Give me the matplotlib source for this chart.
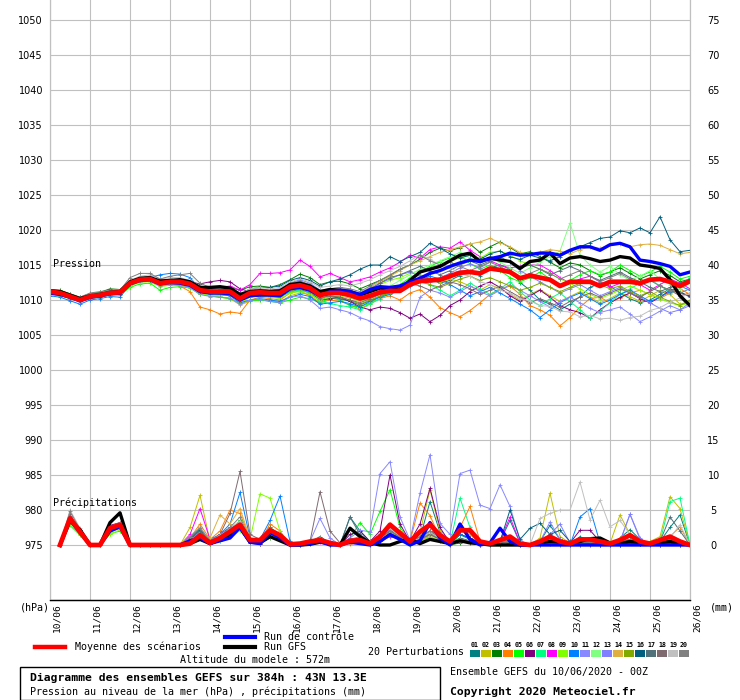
import numpy as np
import matplotlib
matplotlib.use("Agg")
import matplotlib.pyplot as plt
from matplotlib.lines import Line2D
from matplotlib.patches import Rectangle

# Diagramme des ensembles GEFS - 43N 13.3E - run du 10/06/2020 00Z
# pression toutes les 6h de 0 a 384h (65 valeurs), precip de 6h a 384h (64 valeurs)

day_labels = ["10/06", "11/06", "12/06", "13/06", "14/06", "15/06", "16/06", "17/06", "18/06",
              "19/06", "20/06", "21/06", "22/06", "23/06", "24/06", "25/06", "26/06"]

p_mean = [1011.2, 1011.0, 1010.5, 1010.0, 1010.5, 1010.7, 1011.0, 1011.1,
          1012.4, 1012.9, 1013.0, 1012.4, 1012.6, 1012.6, 1012.3, 1011.4,
          1011.2, 1011.2, 1011.2, 1010.2, 1011.0, 1011.1, 1011.0, 1011.0,
          1011.9, 1012.1, 1011.7, 1010.7, 1011.0, 1011.0, 1010.7, 1010.2,
          1010.6, 1011.1, 1011.3, 1011.3, 1012.2, 1012.7, 1012.8, 1012.9,
          1013.4, 1013.9, 1014.0, 1013.8, 1014.5, 1014.3, 1014.0, 1013.1,
          1013.5, 1013.2, 1012.9, 1012.0, 1012.6, 1012.6, 1012.6, 1012.0,
          1012.6, 1012.6, 1012.6, 1012.4, 1012.9, 1013.0, 1012.6, 1012.0, 1012.7]
p_ctrl = [1011.0, 1010.8, 1010.4, 1009.9, 1010.4, 1010.6, 1010.9, 1011.0,
          1012.3, 1012.8, 1012.9, 1012.3, 1012.5, 1012.4, 1012.1, 1011.2,
          1011.0, 1011.0, 1010.9, 1010.0, 1010.6, 1010.7, 1010.7, 1010.6,
          1011.6, 1011.8, 1011.4, 1010.6, 1011.2, 1011.4, 1011.2, 1010.8,
          1011.5, 1011.9, 1011.8, 1012.0, 1012.6, 1013.1, 1013.8, 1014.2,
          1014.8, 1015.3, 1015.7, 1015.5, 1015.9, 1016.2, 1016.7, 1016.4,
          1016.5, 1016.7, 1016.7, 1016.4, 1017.1, 1017.6, 1017.6, 1017.1,
          1017.9, 1018.1, 1017.6, 1015.7, 1015.5, 1015.2, 1014.8, 1013.6, 1014.0]
p_gfs = [1011.3, 1011.2, 1010.7, 1010.2, 1010.6, 1010.8, 1011.1, 1011.2,
         1012.6, 1013.1, 1013.2, 1012.7, 1012.8, 1012.9, 1012.6, 1011.8,
         1011.8, 1011.9, 1011.7, 1010.8, 1011.2, 1011.3, 1011.2, 1011.3,
         1012.2, 1012.4, 1012.0, 1011.2, 1011.5, 1011.4, 1011.2, 1010.7,
         1011.2, 1011.7, 1011.6, 1011.4, 1012.8, 1014.0, 1014.4, 1014.8,
         1015.6, 1016.4, 1016.7, 1015.5, 1016.0, 1015.7, 1015.5, 1014.5,
         1015.5, 1015.7, 1016.7, 1015.2, 1016.0, 1016.2, 1015.9, 1015.5,
         1015.7, 1016.2, 1016.0, 1015.0, 1014.8, 1014.5, 1012.9, 1010.6, 1009.2]

p01 = [1011.4, 1011.1, 1010.6, 1010.1, 1010.6, 1010.9, 1011.2, 1011.3,
       1012.6, 1013.1, 1013.2, 1012.5, 1012.8, 1012.7, 1012.3, 1011.5,
       1011.3, 1011.1, 1011.0, 1010.0, 1010.6, 1010.8, 1010.5, 1010.4,
       1011.5, 1011.8, 1011.2, 1010.0, 1010.4, 1010.2, 1009.8, 1009.3,
       1009.9, 1010.5, 1011.0, 1011.6, 1012.5, 1013.3, 1013.0, 1012.4,
       1012.8, 1013.5, 1014.0, 1013.5, 1014.6, 1015.0, 1014.4, 1012.5,
       1011.4, 1010.0, 1009.4, 1008.6, 1009.4, 1010.5, 1011.8, 1012.4,
       1012.0, 1011.0, 1010.2, 1009.6, 1010.0, 1010.8, 1011.6, 1011.2, 1010.4]
p02 = [1011.0, 1010.9, 1010.3, 1009.8, 1010.3, 1010.5, 1010.8, 1010.9,
       1012.1, 1012.6, 1012.7, 1012.1, 1012.3, 1012.2, 1011.9, 1010.9,
       1010.6, 1010.4, 1010.2, 1009.3, 1009.8, 1010.0, 1009.9, 1009.7,
       1010.6, 1011.0, 1010.8, 1009.9, 1010.2, 1010.5, 1010.3, 1009.8,
       1010.2, 1010.9, 1011.5, 1012.0, 1013.0, 1013.6, 1013.2, 1012.5,
       1013.0, 1012.6, 1012.0, 1011.4, 1012.2, 1011.6, 1010.8, 1010.0,
       1010.8, 1011.5, 1010.6, 1009.8, 1010.5, 1011.2, 1010.4, 1009.6,
       1010.2, 1011.0, 1010.5, 1009.8, 1010.6, 1011.4, 1010.8, 1009.4, 1009.8]
p03 = [1011.5, 1011.4, 1010.9, 1010.4, 1010.9, 1011.1, 1011.6, 1011.5,
       1012.7, 1013.2, 1013.3, 1012.8, 1012.9, 1012.8, 1012.5, 1011.7,
       1011.6, 1011.7, 1011.8, 1011.4, 1011.9, 1012.0, 1011.8, 1012.2,
       1012.9, 1013.7, 1013.2, 1012.2, 1012.6, 1012.7, 1012.3, 1011.6,
       1012.2, 1012.8, 1013.5, 1014.4, 1015.0, 1015.8, 1016.8, 1017.4,
       1017.0, 1017.5, 1018.0, 1016.8, 1017.6, 1018.3, 1017.5, 1016.6,
       1016.9, 1016.2, 1015.4, 1014.6, 1015.3, 1015.0, 1014.2, 1013.5,
       1014.0, 1014.6, 1013.8, 1013.0, 1013.6, 1014.2, 1013.5, 1012.6, 1013.0]
p04 = [1011.1, 1010.9, 1010.4, 1009.9, 1010.4, 1010.6, 1010.9, 1011.0,
       1012.2, 1012.7, 1012.8, 1012.2, 1012.3, 1012.0, 1011.2, 1009.0,
       1008.6, 1008.0, 1008.3, 1008.1, 1010.0, 1010.4, 1010.2, 1010.0,
       1011.0, 1011.3, 1010.6, 1009.6, 1010.0, 1009.8, 1009.3, 1008.7,
       1009.5, 1010.2, 1010.6, 1010.0, 1011.0, 1011.5, 1010.4, 1008.9,
       1008.2, 1007.6, 1008.5, 1009.6, 1010.8, 1011.5, 1012.0, 1010.8,
       1009.2, 1008.6, 1007.8, 1006.3, 1007.5, 1009.0, 1010.2, 1010.4,
       1009.6, 1010.3, 1011.0, 1011.4, 1010.8, 1010.2, 1011.0, 1011.6, 1010.8]
p05 = [1010.8, 1010.6, 1010.2, 1009.8, 1010.2, 1010.4, 1010.7, 1010.7,
       1011.8, 1012.3, 1012.4, 1011.4, 1011.8, 1011.9, 1011.7, 1010.8,
       1010.6, 1010.4, 1010.2, 1009.6, 1009.9, 1010.0, 1009.8, 1009.6,
       1010.0, 1010.4, 1010.2, 1009.6, 1010.3, 1010.0, 1009.2, 1009.0,
       1009.6, 1010.5, 1011.4, 1012.2, 1013.2, 1014.0, 1014.8, 1015.5,
       1016.0, 1016.4, 1015.2, 1014.4, 1015.0, 1014.2, 1013.2, 1012.6,
       1013.2, 1014.0, 1013.0, 1012.2, 1012.8, 1013.6, 1014.2, 1013.6,
       1014.0, 1015.0, 1014.2, 1013.4, 1014.0, 1014.8, 1014.0, 1013.0, 1013.4]
p06 = [1011.3, 1011.1, 1010.6, 1010.1, 1010.6, 1010.8, 1011.2, 1011.3,
       1012.5, 1013.0, 1013.1, 1012.6, 1012.8, 1012.8, 1012.6, 1012.3,
       1012.6, 1012.8, 1012.6, 1011.6, 1011.2, 1011.0, 1010.6, 1010.4,
       1011.2, 1011.5, 1011.0, 1010.0, 1010.2, 1010.4, 1009.8, 1009.0,
       1008.6, 1009.0, 1008.8, 1008.2, 1007.4, 1008.0, 1006.9, 1007.8,
       1009.2, 1010.0, 1011.2, 1012.0, 1012.6, 1011.8, 1010.6, 1009.8,
       1010.6, 1011.4, 1010.4, 1009.2, 1008.6, 1008.2, 1007.4, 1008.6,
       1009.6, 1010.4, 1011.0, 1010.2, 1009.6, 1010.4, 1011.4, 1011.0, 1010.6]
p07 = [1011.2, 1011.0, 1010.5, 1010.0, 1010.4, 1010.6, 1011.0, 1011.1,
       1012.3, 1012.8, 1012.9, 1012.2, 1012.4, 1012.4, 1012.0, 1011.0,
       1010.8, 1010.6, 1010.7, 1009.8, 1010.5, 1010.6, 1010.4, 1010.4,
       1011.2, 1011.4, 1011.0, 1009.8, 1009.5, 1009.2, 1009.0, 1008.6,
       1009.4, 1010.2, 1011.0, 1011.5, 1012.4, 1013.0, 1012.2, 1011.4,
       1010.6, 1011.4, 1012.4, 1011.6, 1010.8, 1011.6, 1012.6, 1011.2,
       1010.0, 1009.2, 1010.2, 1011.0, 1009.8, 1008.6, 1007.4, 1008.4,
       1009.6, 1010.8, 1011.6, 1012.4, 1013.0, 1012.0, 1011.2, 1012.0, 1013.2]
p08 = [1011.2, 1011.0, 1010.6, 1010.1, 1010.5, 1010.7, 1011.0, 1011.2,
       1012.5, 1013.0, 1013.1, 1012.6, 1012.7, 1012.8, 1012.5, 1011.8,
       1011.6, 1011.8, 1012.0, 1011.4, 1012.2, 1013.8, 1013.8, 1013.9,
       1014.3, 1015.7, 1014.8, 1013.3, 1013.8, 1013.2, 1012.6, 1012.9,
       1013.3, 1014.0, 1014.6, 1015.4, 1016.4, 1016.0, 1017.2, 1017.6,
       1017.4, 1018.3, 1017.1, 1016.2, 1015.6, 1015.0, 1014.6, 1014.8,
       1015.0, 1015.0, 1014.2, 1013.2, 1012.4, 1013.0, 1013.4, 1012.6,
       1011.8, 1012.4, 1013.0, 1012.2, 1011.4, 1012.2, 1013.0, 1012.4, 1011.6]
p09 = [1011.0, 1010.8, 1010.3, 1009.9, 1010.3, 1010.5, 1010.8, 1010.9,
       1012.0, 1012.5, 1012.6, 1011.9, 1012.1, 1012.1, 1011.8, 1010.9,
       1010.6, 1010.6, 1010.8, 1009.6, 1010.4, 1010.6, 1010.4, 1010.2,
       1011.0, 1011.2, 1010.8, 1010.0, 1010.4, 1010.6, 1010.8, 1010.6,
       1011.4, 1012.2, 1012.8, 1013.2, 1013.8, 1014.2, 1014.6, 1015.0,
       1015.5, 1016.0, 1016.4, 1016.0, 1016.8, 1017.0, 1016.4, 1015.6,
       1015.0, 1014.4, 1013.8, 1013.0, 1012.4, 1011.6, 1010.8, 1010.2,
       1010.8, 1011.4, 1012.0, 1011.4, 1010.8, 1010.2, 1009.6, 1009.2, 1009.6]
p10 = [1010.6, 1010.4, 1009.9, 1009.4, 1010.0, 1010.2, 1010.5, 1010.4,
       1012.2, 1013.0, 1013.2, 1013.6, 1013.8, 1013.7, 1013.2, 1011.6,
       1011.0, 1010.8, 1010.6, 1009.6, 1010.0, 1010.2, 1010.0, 1009.8,
       1010.4, 1010.8, 1010.5, 1009.4, 1009.6, 1009.8, 1009.5, 1009.0,
       1009.8, 1010.4, 1010.8, 1011.4, 1012.0, 1012.8, 1013.4, 1013.0,
       1012.2, 1011.4, 1010.6, 1011.2, 1011.8, 1011.0, 1010.2, 1009.4,
       1008.6, 1007.5, 1008.6, 1009.6, 1010.4, 1011.0, 1010.2, 1009.4,
       1010.0, 1010.8, 1011.4, 1010.6, 1009.8, 1010.4, 1011.2, 1012.0, 1011.4]
p11 = [1010.9, 1010.7, 1010.2, 1009.7, 1010.2, 1010.4, 1010.7, 1010.8,
       1012.1, 1012.6, 1012.7, 1012.0, 1012.2, 1012.1, 1011.8, 1010.8,
       1010.5, 1010.4, 1010.3, 1009.4, 1010.0, 1010.1, 1009.8, 1009.6,
       1010.4, 1010.6, 1010.0, 1008.8, 1009.0, 1008.6, 1008.2, 1007.5,
       1007.0, 1006.2, 1005.9, 1005.7, 1006.4, 1010.4, 1011.4, 1011.0,
       1010.4, 1011.2, 1012.0, 1011.2, 1010.6, 1011.4, 1012.2, 1011.4,
       1010.6, 1009.8, 1009.0, 1009.8, 1010.4, 1009.6, 1008.8, 1008.2,
       1008.6, 1009.0, 1008.0, 1006.9, 1007.6, 1008.4, 1009.2, 1008.6, 1009.6]
p12 = [1011.1, 1010.9, 1010.4, 1009.9, 1010.5, 1010.7, 1011.0, 1011.0,
       1012.2, 1012.7, 1012.8, 1012.3, 1012.5, 1012.5, 1012.2, 1011.2,
       1011.0, 1011.1, 1011.2, 1010.0, 1010.9, 1011.0, 1010.8, 1010.8,
       1011.6, 1011.8, 1011.4, 1010.6, 1011.0, 1010.8, 1010.4, 1009.8,
       1010.4, 1011.2, 1012.0, 1012.8, 1013.6, 1014.4, 1015.0, 1015.6,
       1016.2, 1016.8, 1016.0, 1015.2, 1016.0, 1015.4, 1014.6, 1013.8,
       1014.6, 1015.4, 1016.2, 1017.0, 1021.0, 1016.4, 1015.0, 1014.0,
       1014.8, 1013.6, 1012.8, 1013.4, 1014.2, 1013.0, 1012.2, 1011.6, 1012.4]
p13 = [1011.4, 1011.2, 1010.7, 1010.2, 1010.7, 1010.9, 1011.2, 1011.3,
       1012.6, 1013.0, 1013.1, 1012.5, 1012.7, 1012.7, 1012.4, 1011.6,
       1011.5, 1011.6, 1011.4, 1010.4, 1011.3, 1011.5, 1011.4, 1011.6,
       1012.4, 1012.9, 1012.4, 1011.4, 1011.6, 1011.8, 1011.4, 1010.8,
       1011.4, 1012.4, 1013.0, 1013.6, 1014.0, 1013.4, 1012.6, 1013.2,
       1013.8, 1014.6, 1015.2, 1014.6, 1015.4, 1016.0, 1015.4, 1014.2,
       1013.4, 1012.6, 1011.8, 1011.0, 1011.6, 1012.2, 1011.4, 1010.6,
       1011.2, 1011.8, 1011.0, 1010.4, 1009.6, 1008.8, 1008.2, 1008.6, 1009.2]
p14 = [1011.3, 1011.1, 1010.6, 1010.1, 1010.6, 1010.8, 1011.1, 1011.2,
       1012.4, 1012.9, 1013.0, 1012.4, 1012.6, 1012.5, 1012.2, 1011.4,
       1011.1, 1011.0, 1011.1, 1010.2, 1011.0, 1011.2, 1011.0, 1011.1,
       1012.0, 1012.3, 1011.9, 1011.0, 1011.4, 1011.6, 1011.4, 1011.0,
       1011.8, 1012.6, 1013.4, 1014.2, 1015.0, 1015.6, 1016.2, 1016.8,
       1017.2, 1017.6, 1018.0, 1018.3, 1018.8, 1018.2, 1017.6, 1016.8,
       1016.4, 1016.8, 1017.2, 1017.0, 1016.6, 1017.2, 1017.6, 1017.4,
       1017.8, 1018.0, 1017.6, 1017.9, 1018.0, 1017.8, 1017.2, 1016.6, 1016.8]
p15 = [1011.2, 1011.0, 1010.4, 1010.0, 1010.4, 1010.6, 1011.0, 1011.0,
       1012.3, 1012.8, 1012.9, 1012.2, 1012.4, 1012.4, 1012.1, 1011.1,
       1010.9, 1010.8, 1010.9, 1009.9, 1010.7, 1010.8, 1010.6, 1010.6,
       1011.4, 1011.6, 1011.2, 1010.2, 1010.6, 1010.4, 1010.0, 1009.4,
       1010.0, 1010.6, 1011.0, 1011.6, 1012.2, 1012.6, 1012.2, 1011.8,
       1012.4, 1013.0, 1013.4, 1012.8, 1013.2, 1012.6, 1012.0, 1011.4,
       1011.8, 1012.4, 1011.8, 1011.2, 1011.8, 1012.4, 1012.8, 1012.2,
       1011.6, 1012.0, 1011.2, 1010.6, 1011.2, 1010.4, 1009.8, 1009.2, 1010.0]
p16 = [1011.0, 1010.8, 1010.3, 1009.8, 1010.3, 1010.5, 1010.8, 1010.9,
       1012.3, 1012.8, 1012.9, 1012.4, 1012.6, 1012.6, 1012.3, 1011.3,
       1011.2, 1011.4, 1011.6, 1010.8, 1011.6, 1011.8, 1011.8, 1012.0,
       1012.8, 1013.2, 1012.8, 1012.0, 1012.6, 1013.0, 1013.6, 1014.4,
       1015.0, 1015.0, 1016.2, 1015.5, 1016.2, 1016.8, 1018.1, 1017.4,
       1016.6, 1016.0, 1016.4, 1015.8, 1016.6, 1017.0, 1016.2, 1015.8,
       1016.4, 1016.0, 1015.6, 1016.2, 1017.0, 1017.6, 1018.2, 1018.8,
       1019.0, 1019.9, 1019.6, 1020.3, 1019.6, 1021.9, 1018.6, 1016.9, 1017.1]
p17 = [1011.3, 1011.1, 1010.6, 1010.1, 1010.6, 1010.8, 1011.1, 1011.2,
       1012.5, 1013.0, 1013.1, 1012.5, 1012.7, 1012.7, 1012.4, 1011.5,
       1011.3, 1011.2, 1011.3, 1010.3, 1011.1, 1011.2, 1011.1, 1011.0,
       1011.8, 1012.0, 1011.6, 1010.8, 1011.2, 1011.4, 1011.2, 1010.8,
       1011.6, 1012.4, 1013.2, 1013.6, 1014.2, 1014.8, 1014.2, 1013.6,
       1014.2, 1015.0, 1015.6, 1015.0, 1015.6, 1016.2, 1015.4, 1014.6,
       1015.0, 1014.4, 1013.6, 1014.2, 1014.8, 1014.2, 1013.4, 1012.8,
       1013.4, 1014.0, 1013.2, 1012.6, 1011.8, 1011.2, 1011.8, 1012.4, 1013.0]
p18 = [1011.2, 1011.0, 1010.5, 1010.0, 1010.5, 1010.7, 1011.0, 1011.1,
       1012.4, 1012.9, 1013.0, 1012.4, 1012.6, 1012.6, 1012.3, 1011.4,
       1011.2, 1011.2, 1011.0, 1010.0, 1010.8, 1010.9, 1010.8, 1010.7,
       1011.6, 1011.8, 1011.3, 1010.3, 1010.6, 1010.4, 1010.0, 1009.6,
       1010.2, 1010.8, 1011.4, 1011.8, 1012.4, 1012.0, 1011.4, 1012.0,
       1012.6, 1012.2, 1011.6, 1010.8, 1011.4, 1012.0, 1011.2, 1010.4,
       1009.6, 1010.2, 1009.6, 1009.0, 1009.8, 1010.4, 1011.0, 1010.4,
       1011.0, 1011.6, 1011.0, 1010.4, 1011.2, 1012.0, 1011.4, 1010.6, 1011.0]
p19 = [1011.4, 1011.2, 1010.8, 1010.3, 1010.8, 1011.0, 1011.3, 1011.4,
       1012.8, 1013.4, 1013.6, 1013.0, 1013.2, 1013.2, 1012.8, 1012.0,
       1011.8, 1011.8, 1011.6, 1010.8, 1011.6, 1011.8, 1011.6, 1011.8,
       1012.6, 1013.0, 1012.6, 1011.8, 1012.0, 1012.2, 1012.0, 1012.4,
       1012.9, 1013.6, 1014.2, 1014.8, 1015.6, 1016.5, 1015.8, 1015.0,
       1014.6, 1013.8, 1013.4, 1012.6, 1012.2, 1011.4, 1011.0, 1010.2,
       1009.9, 1009.2, 1009.1, 1008.4, 1008.3, 1007.6, 1007.8, 1007.3,
       1007.4, 1007.1, 1007.5, 1007.7, 1008.5, 1008.9, 1009.7, 1010.3, 1011.0]
p20 = [1011.3, 1011.2, 1010.8, 1010.4, 1011.0, 1011.2, 1011.4, 1011.4,
       1013.2, 1013.8, 1013.8, 1013.0, 1013.4, 1013.6, 1013.8, 1012.4,
       1011.8, 1011.6, 1011.6, 1010.6, 1011.4, 1011.6, 1011.4, 1011.5,
       1012.4, 1012.7, 1012.2, 1011.2, 1011.6, 1011.8, 1011.6, 1011.2,
       1012.0, 1012.8, 1013.6, 1014.4, 1015.0, 1016.4, 1015.6, 1015.0,
       1015.4, 1014.8, 1014.2, 1014.8, 1015.4, 1014.8, 1014.0, 1013.2,
       1013.8, 1014.4, 1013.8, 1013.0, 1013.6, 1014.2, 1013.4, 1012.6,
       1013.2, 1013.8, 1013.0, 1012.2, 1012.8, 1012.0, 1011.4, 1011.0, 1011.6]

# precipitations (mm / 6h)
r_mean = [0, 3.8, 1.9, 0, 0, 2.4, 2.9, 0,
          0, 0, 0, 0, 0, 0.2, 1.4, 0.3,
          1.0, 1.9, 2.9, 0.7, 0.7, 2.1, 1.4, 0.1,
          0.2, 0.5, 0.7, 0.3, 0, 0.6, 0.7, 0.2,
          1.2, 2.9, 1.7, 0.5, 1.9, 2.9, 1.4, 0.5,
          2.1, 2.1, 0.5, 0.2, 0.7, 1.2, 0.2, 0,
          0.5, 1.2, 0.5, 0.2, 0.8, 0.8, 0.5, 0.2,
          0.7, 1.4, 0.5, 0.2, 0.7, 1.2, 0.5, 0]
r_ctrl = [0, 3.6, 1.8, 0, 0, 2.0, 2.6, 0,
          0, 0, 0, 0, 0, 0.6, 1.0, 0.2,
          0.6, 1.0, 2.5, 0.4, 0.2, 1.8, 1.0, 0,
          0, 0.2, 0.5, 0, 0, 0.4, 0.2, 0,
          0.5, 1.5, 0.8, 0, 0.6, 3.2, 1.0, 0,
          3.0, 0.8, 0, 0.3, 2.4, 0.5, 0, 0,
          0, 0, 0, 0, 0, 0, 0, 0,
          0, 0, 0, 0, 0, 0, 0, 0]
r_gfs = [0, 3.5, 2.2, 0, 0, 3.2, 4.6, 0,
         0, 0, 0, 0, 0, 0.2, 0.8, 0.2,
         0.8, 1.5, 2.5, 0.4, 0.3, 1.2, 0.6, 0,
         0, 0.1, 0.4, 0.2, 0, 2.4, 1.2, 0.3,
         0, 0, 0.5, 0.8, 0.2, 0.8, 0.5, 0.2,
         0.6, 0.3, 0.2, 0, 0, 0, 0, 0,
         0.3, 0.5, 0.4, 0.2, 0.5, 0.9, 1.0, 0.3,
         0.2, 0.5, 0.3, 0.1, 0.3, 0.5, 0.2, 0]

r01 = [0, 4.0, 1.6, 0, 0, 2.2, 3.0, 0,
       0, 0, 0, 0, 0, 0.8, 2.5, 0.5,
       1.2, 2.0, 3.5, 0.6, 0.5, 2.0, 1.0, 0,
       0, 0.5, 1.2, 0.3, 0, 4.0, 2.0, 0.5,
       1.0, 2.0, 1.5, 0.5, 1.0, 6.2, 1.8, 0.2,
       1.5, 1.0, 0.3, 0, 0.5, 3.5, 0.3, 0,
       0.5, 2.8, 0.8, 0.2, 1.2, 0.5, 0, 0,
       1.0, 2.2, 0.8, 0, 0.5, 2.5, 4.3, 0]
r02 = [0, 3.4, 2.0, 0, 0, 1.8, 2.4, 0,
       0, 0, 0, 0, 0, 2.5, 7.1, 0.5,
       1.0, 1.5, 2.2, 0.5, 0.3, 1.5, 1.2, 0,
       0, 0.3, 0.6, 0, 0, 0.3, 0.8, 0,
       1.5, 2.5, 1.0, 0.5, 1.8, 7.9, 2.0, 0.3,
       2.8, 1.5, 0.2, 0, 0.3, 0.5, 0, 0,
       1.0, 7.4, 1.2, 0.3, 0, 0.5, 0.8, 0.2,
       4.3, 1.5, 0.2, 0.5, 1.2, 6.9, 5.2, 0]
r03 = [0, 3.2, 1.5, 0, 0, 2.5, 3.0, 0,
       0, 0, 0, 0, 0, 0.5, 1.5, 0.2,
       0.5, 1.5, 2.8, 0.3, 0.2, 1.0, 0.8, 0,
       0, 0.2, 0.8, 0.3, 0, 0.6, 0.5, 0,
       0.5, 1.8, 1.0, 0, 0.5, 1.2, 0.5, 0,
       0.3, 0.5, 0, 0, 0, 0.3, 0, 0,
       0, 0.3, 0, 0, 0, 0.2, 0, 0,
       0, 0.5, 0.2, 0, 0, 0.3, 0, 0]
r04 = [0, 3.0, 2.2, 0, 0, 2.0, 2.6, 0,
       0, 0, 0, 0, 0, 1.0, 3.0, 0.8,
       2.0, 5.0, 4.5, 1.0, 0.5, 3.0, 2.0, 0,
       0, 0.5, 1.0, 0.3, 0, 0.2, 0.5, 0,
       1.0, 3.0, 2.0, 0.5, 6.0, 4.2, 1.0, 0.3,
       2.5, 5.5, 0.5, 0, 0.2, 1.0, 0, 0,
       0.3, 0.8, 0.5, 0, 0.3, 0.2, 0.8, 0,
       1.0, 1.5, 0.3, 0, 0.5, 1.2, 2.6, 0]
r05 = [0, 2.8, 1.4, 0, 0, 1.6, 2.0, 0,
       0, 0, 0, 0, 0, 0.8, 2.2, 0.5,
       0.8, 2.2, 3.5, 0.8, 0.5, 2.5, 1.5, 0,
       0, 0.3, 0.5, 0, 0, 1.0, 3.2, 1.5,
       4.8, 7.9, 2.5, 0.5, 1.0, 2.0, 0.8, 0,
       1.5, 0.8, 0, 0, 0, 0.5, 0, 0,
       0, 0.5, 0.2, 0, 0, 0, 0.3, 0,
       0, 0.8, 0.5, 0, 0, 0.3, 0, 0]
r06 = [0, 4.2, 2.0, 0, 0, 2.8, 3.2, 0,
       0, 0, 0, 0, 0, 1.2, 2.0, 0.3,
       1.5, 2.5, 3.0, 0.5, 0.2, 1.8, 1.0, 0,
       0, 0.4, 0.8, 0.2, 0, 1.5, 2.0, 0.5,
       2.0, 10.0, 3.0, 0.5, 3.0, 8.1, 2.5, 0.3,
       1.5, 1.0, 0.3, 0, 0.5, 0.8, 0, 0,
       0.3, 0.5, 0.8, 0.3, 2.1, 2.1, 0.5, 0,
       0.3, 0.8, 0.4, 0, 0.2, 0.5, 0.3, 0]
r07 = [0, 3.6, 1.8, 0, 0, 2.2, 2.8, 0,
       0, 0, 0, 0, 0, 0.6, 1.5, 0.3,
       0.8, 1.8, 2.5, 0.3, 0.5, 1.5, 1.0, 0,
       0, 0.3, 0.5, 0, 0, 0.5, 0.8, 0,
       1.0, 2.0, 1.5, 0.3, 0.8, 1.5, 1.0, 0.2,
       6.7, 2.5, 0.5, 0, 0.3, 0.5, 0, 0,
       0, 0.3, 0.5, 0, 0, 0.2, 0, 0,
       0.3, 0.6, 0.2, 0, 0.5, 6.2, 6.7, 0]
r08 = [0, 3.8, 2.0, 0, 0, 2.2, 2.8, 0,
       0, 0, 0, 0, 0, 1.5, 5.2, 0.8,
       1.2, 2.0, 2.8, 0.4, 0.3, 2.0, 1.2, 0,
       0, 0.2, 0.4, 0, 0, 0.3, 0.5, 0,
       0.5, 1.2, 0.8, 0.3, 0.5, 1.5, 0.8, 0.2,
       0.8, 0.5, 0.3, 0, 0.6, 4.0, 0.3, 0,
       0, 0.2, 0.3, 0, 0, 0, 0.3, 0,
       0, 0.3, 0.2, 0, 0, 0.5, 0.3, 0]
r09 = [0, 3.2, 1.6, 0, 0, 1.5, 2.2, 0,
       0, 0, 0, 0, 0, 0.5, 1.2, 0.3,
       0.6, 1.5, 2.2, 0.8, 7.3, 6.7, 2.0, 0,
       0, 0.3, 0.6, 0, 0, 0.4, 0.8, 0.2,
       0.8, 1.5, 1.0, 0.2, 0.5, 1.2, 0.6, 0,
       0.5, 0.3, 0, 0, 0.2, 0.4, 0, 0,
       0, 0.2, 0, 0, 0.3, 0.8, 0.2, 0,
       0.2, 0.5, 0.3, 0, 0, 0.4, 0.2, 0]
r10 = [0, 3.4, 1.8, 0, 0, 2.0, 2.5, 0,
       0, 0, 0, 0, 0, 0.8, 2.0, 0.8,
       1.5, 3.0, 7.5, 1.0, 0.8, 3.5, 7.0, 0.5,
       0, 0.5, 0.8, 0.3, 0, 1.0, 0.5, 0,
       0.8, 1.5, 1.2, 0.5, 0.8, 1.8, 1.0, 0.3,
       1.5, 0.8, 0.3, 0, 0.5, 0.5, 0, 0,
       0.3, 0.5, 0.2, 0, 4.0, 5.2, 0.3, 0,
       0.2, 0.5, 0.3, 0, 0.3, 0.5, 0.3, 0]
r11 = [0, 3.6, 2.0, 0, 0, 2.0, 2.4, 0,
       0, 0, 0, 0, 0, 0.8, 1.8, 0.3,
       0.8, 1.8, 2.8, 0.6, 0.4, 1.5, 1.0, 0,
       0, 0.5, 3.8, 1.0, 0, 1.0, 2.1, 1.9,
       10.2, 11.9, 4.0, 0.7, 7.4, 12.9, 3.1, 1.5,
       10.2, 10.7, 5.7, 5.2, 8.6, 5.5, 0.7, 0,
       0.5, 3.3, 0.8, 0.2, 0.5, 0.3, 0.2, 0,
       0.5, 4.4, 0.8, 0, 0.3, 0.5, 0.2, 0]
r12 = [0, 3.0, 1.8, 0, 0, 2.0, 2.6, 0,
       0, 0, 0, 0, 0, 0.5, 1.5, 0.3,
       0.6, 1.2, 2.0, 0.5, 0.3, 1.2, 0.8, 0,
       0, 0.2, 0.5, 0, 0, 0.5, 0.8, 0,
       1.2, 2.5, 1.2, 0.3, 1.5, 2.8, 1.0, 0.2,
       1.0, 0.5, 0.2, 0, 0.3, 0.5, 0, 0,
       0, 0.3, 0.2, 0, 0, 0.3, 0.2, 0,
       0.2, 0.3, 0.2, 0, 0, 0.5, 0.2, 0]
r13 = [0, 4.0, 2.2, 0, 0, 2.4, 3.0, 0,
       0, 0, 0, 0, 0, 1.0, 2.5, 0.5,
       1.0, 2.0, 3.2, 0.6, 0.4, 2.0, 1.0, 0,
       0, 0.3, 0.8, 0.2, 0, 0.8, 1.2, 0.3,
       1.2, 2.2, 1.5, 0.5, 1.0, 2.0, 1.5, 0.3,
       0.8, 0.5, 0.2, 0, 0.5, 0.8, 0, 0,
       0.5, 1.5, 3.0, 0.3, 0.5, 0.3, 0.2, 0,
       0.5, 4.4, 1.0, 0, 0.2, 0.5, 0.3, 0]
r14 = [0, 3.4, 1.6, 0, 0, 2.0, 2.6, 0,
       0, 0, 0, 0, 0, 1.2, 2.0, 1.0,
       4.3, 3.0, 5.2, 1.0, 0.5, 2.0, 1.5, 0,
       0, 0.4, 0.8, 0, 0, 0.4, 0.6, 0,
       1.0, 1.8, 1.2, 0.3, 0.6, 1.5, 0.8, 0,
       0.8, 0.5, 0, 0, 0.3, 0.5, 0, 0,
       0, 0.5, 0.3, 0, 0, 0.3, 0.5, 0,
       0.5, 0.8, 0.5, 0, 0.3, 0.8, 0.5, 0]
r15 = [0, 3.2, 1.8, 0, 0, 2.2, 2.8, 0,
       0, 0, 0, 0, 0, 0.6, 1.6, 0.4,
       0.8, 1.5, 2.6, 0.5, 0.3, 1.6, 1.0, 0,
       0, 0.3, 0.6, 0, 0, 0.5, 0.6, 0,
       0.8, 1.6, 1.0, 0.3, 0.8, 1.5, 0.8, 0,
       0.5, 0.3, 0, 0, 0.2, 0.4, 0, 0,
       0, 0.3, 0.2, 0, 0, 0.3, 0, 0,
       0, 0.4, 0.2, 0, 0.2, 0.6, 0.3, 0]
r16 = [0, 3.8, 2.2, 0, 0, 2.4, 3.2, 0,
       0, 0, 0, 0, 0, 0.8, 2.2, 0.4,
       1.0, 2.2, 3.0, 0.6, 0.4, 1.8, 1.2, 0,
       0, 0.4, 0.6, 0, 0, 0.5, 0.8, 0.2,
       1.0, 2.0, 1.2, 0.4, 1.0, 2.0, 1.5, 0.2,
       0.8, 0.5, 0.3, 0, 0.5, 5.0, 0.8, 2.4,
       3.1, 1.5, 2.1, 0.5, 0.3, 0.2, 0, 0,
       0, 0.3, 0.2, 0, 0, 0.3, 0, 0]
r17 = [0, 3.6, 2.0, 0, 0, 2.2, 2.8, 0,
       0, 0, 0, 0, 0, 1.0, 2.0, 0.5,
       1.2, 2.2, 3.0, 0.6, 0.5, 2.0, 1.2, 0,
       0, 0.3, 0.8, 0.2, 0, 4.0, 1.5, 0.5,
       1.5, 2.8, 1.5, 0.5, 1.2, 2.0, 1.0, 0.2,
       1.0, 0.6, 0.2, 0, 0.3, 0.5, 0, 0,
       0.3, 0.5, 0.3, 0, 0.2, 0.5, 0.3, 0,
       0.3, 0.8, 0.5, 0, 0.5, 4.0, 2.0, 0]
r18 = [0, 4.4, 2.0, 0, 0, 2.4, 3.0, 0,
       0, 0, 0, 0, 0, 1.0, 2.5, 0.5,
       1.5, 4.5, 10.5, 1.5, 0.8, 2.5, 1.5, 0,
       0, 0.5, 7.6, 2.0, 0.3, 0.8, 0.6, 0,
       0.8, 1.5, 1.0, 0.3, 0.8, 1.5, 0.8, 0,
       0.5, 0.3, 0, 0, 0.2, 0.5, 0, 0,
       0.2, 0.5, 0.3, 0, 0.2, 0.3, 0.2, 0,
       0.3, 0.5, 0.3, 0, 0, 0.4, 0.2, 0]
r19 = [0, 5.0, 2.4, 0, 0, 2.6, 3.2, 0,
       0, 0, 0, 0, 0, 1.2, 2.6, 0.5,
       1.4, 2.4, 3.4, 0.6, 0.5, 2.2, 1.2, 0,
       0, 0.4, 1.0, 0.3, 0, 0.6, 1.0, 0.5,
       1.2, 2.4, 1.2, 0.4, 1.0, 1.8, 1.0, 0.3,
       0.8, 0.5, 0.3, 0, 0.5, 0.8, 0.3, 0,
       3.8, 4.5, 5.0, 5.0, 9.0, 3.6, 6.4, 2.6,
       3.5, 1.5, 0.5, 0, 0.5, 1.0, 2.9, 0]
r20 = [0, 4.8, 2.2, 0, 0, 2.6, 3.0, 0,
       0, 0, 0, 0, 0, 1.2, 2.4, 0.6,
       1.2, 2.5, 4.0, 0.8, 0.5, 2.0, 1.2, 0,
       0, 0.4, 1.0, 0.3, 0, 0.6, 0.8, 0.2,
       1.0, 2.0, 1.2, 0.4, 1.2, 2.0, 1.2, 0.3,
       0.8, 0.5, 0.3, 0, 0.5, 0.8, 0, 0,
       0.3, 0.6, 0.5, 0, 0.3, 0.5, 0.3, 0,
       0.5, 0.8, 0.5, 0, 0.3, 0.8, 0.4, 0]

member_colors = ["#008080", "#c0c000", "#008000", "#ff8000", "#00ff00", "#800080", "#00ff80",
                 "#ff00ff", "#80ff00", "#0080ff", "#8888ff", "#80ff80", "#7f7fff", "#dfaf3f",
                 "#80aa00", "#005f7f", "#50707a", "#7f6a70", "#c0c0c0", "#808080"]

pressures = [p01, p02, p03, p04, p05, p06, p07, p08, p09, p10,
             p11, p12, p13, p14, p15, p16, p17, p18, p19, p20]
precips = [r01, r02, r03, r04, r05, r06, r07, r08, r09, r10,
           r11, r12, r13, r14, r15, r16, r17, r18, r19, r20]

for k, (pp, rr) in enumerate(zip(pressures + [p_mean, p_ctrl, p_gfs], precips + [r_mean, r_ctrl, r_gfs])):
    assert len(pp) == 65, ("pression", k, len(pp))
    assert len(rr) == 64, ("precip", k, len(rr))

hours_p = np.arange(0, 385, 6)
hours_r = np.arange(6, 385, 6)

W, H = 740, 700
MONO = ["DejaVu Sans Mono"]


def fx(x):
    return x / W


def fy(y):
    return 1 - y / H


fig = plt.figure(figsize=(7.4, 7.0), dpi=100)
fig.patch.set_facecolor("white")

# zone du graphique : x 50 -> 690 px, y 0 -> 600 px ; 7 px par hPa, 1050 a y=20
ax = fig.add_axes([fx(50), fy(600), 640 / W, 600 / H])
ax.set_xlim(0, 384)
ylo = 1050 - 580 / 7
yhi = 1050 + 20 / 7
ax.set_ylim(ylo, yhi)
ax.set_xticks(np.arange(0, 385, 24))
ax.set_xticklabels([])
ax.set_yticks(np.arange(975, 1051, 5))
ax.grid(True, color="#c0c0c0", lw=0.8)
ax.set_axisbelow(True)
ax.tick_params(axis="x", length=0)
ax.tick_params(axis="y", length=0, pad=5, labelsize=7)

ax2 = ax.twinx()
ax2.set_ylim(ylo - 975, yhi - 975)
ax2.set_yticks(np.arange(0, 76, 5))
ax2.tick_params(axis="y", length=0, pad=17, labelsize=7)
for lbl in ax2.get_yticklabels():
    lbl.set_ha("center")

for a in (ax, ax2):
    a.spines["top"].set_visible(False)
    a.spines["left"].set_color("#c0c0c0")
    a.spines["right"].set_color("#c0c0c0")
    a.spines["left"].set_linewidth(0.8)
    a.spines["right"].set_linewidth(0.8)
    a.spines["bottom"].set_color("black")
    a.spines["bottom"].set_linewidth(0.9)

# perturbations
for pp, rr, c in zip(pressures, precips, member_colors):
    ax.plot(hours_p, pp, color=c, lw=0.7, marker="+", ms=3, mew=0.6, zorder=2)
    ax2.plot(hours_r, rr, color=c, lw=0.7, marker="+", ms=3, mew=0.6, zorder=2)

# run GFS, controle, moyenne
ax.plot(hours_p, p_gfs, color="black", lw=2.4, zorder=3)
ax.plot(hours_p, p_ctrl, color="#0000ff", lw=2.4, zorder=4)
ax.plot(hours_p, p_mean, color="#ff0000", lw=3.4, zorder=5)
ax2.plot(hours_r, r_gfs, color="black", lw=2.4, zorder=3)
ax2.plot(hours_r, r_ctrl, color="#0000ff", lw=2.4, zorder=4)
ax2.plot(hours_r, r_mean, color="#ff0000", lw=3.4, zorder=5)

ax.text(1.5, 1015.2, "Pression", family=MONO, fontsize=7.2, va="center", zorder=6)
ax.text(1.5, 981.1, "Précipitations", family=MONO, fontsize=7.2, va="center", zorder=6)

# dates sous l'axe
for i, lab in enumerate(day_labels):
    ax.annotate(lab, xy=(i * 24, 0), xycoords=("data", "axes fraction"),
                xytext=(5.2, -2), textcoords="offset points", rotation=90,
                ha="center", va="top", family=MONO, fontsize=6.8, annotation_clip=False)

fig.text(fx(20), fy(607.5), "(hPa)", family=MONO, fontsize=7.2, va="center")
fig.text(fx(710), fy(607.5), "(mm)", family=MONO, fontsize=7.2, va="center")

# legende
fig.add_artist(Line2D([fx(35), fx(65)], [fy(647), fy(647)], color="#ff0000", lw=3.2))
fig.text(fx(75), fy(647), "Moyenne des scénarios", family=MONO, fontsize=7.2, va="center")
fig.add_artist(Line2D([fx(225), fx(255)], [fy(637), fy(637)], color="#0000ff", lw=3.0))
fig.text(fx(264), fy(637), "Run de contrôle", family=MONO, fontsize=7.2, va="center")
fig.add_artist(Line2D([fx(225), fx(255)], [fy(647), fy(647)], color="black", lw=3.0))
fig.text(fx(264), fy(647), "Run GFS", family=MONO, fontsize=7.2, va="center")
fig.text(fx(180), fy(660), "Altitude du modele : 572m", family=MONO, fontsize=7.2, va="center")

fig.text(fx(368), fy(652), "20 Perturbations", family=MONO, fontsize=7.2, va="center")
for k, c in enumerate(member_colors):
    x0 = 470 + 11 * k
    fig.add_artist(Rectangle((fx(x0), fy(657)), 10 / W, 7 / H, transform=fig.transFigure,
                             facecolor=c, edgecolor="none"))
    fig.text(fx(x0 + 5), fy(645), "%02d" % (k + 1), family=MONO, fontsize=4.8,
             fontweight="bold", ha="center", va="center")

# cadre du titre
fig.add_artist(Rectangle((fx(20), 0), 420 / W, 33 / H, transform=fig.transFigure,
                         fill=False, edgecolor="black", lw=1.0))
fig.text(fx(30), fy(677.5), "Diagramme des ensembles GEFS sur 384h : 43N 13.3E",
         family=MONO, fontsize=8.2, fontweight="bold", va="center")
fig.text(fx(30), fy(691.5), "Pression au niveau de la mer (hPa) , précipitations (mm)",
         family=MONO, fontsize=7.2, va="center")

fig.text(fx(450), fy(672), "Ensemble GEFS du 10/06/2020 - 00Z", family=MONO, fontsize=7.2, va="center")
fig.text(fx(450), fy(691.5), "Copyright 2020 Meteociel.fr", family=MONO, fontsize=8.2,
         fontweight="bold", va="center")

fig.savefig("out.png", dpi=100)
